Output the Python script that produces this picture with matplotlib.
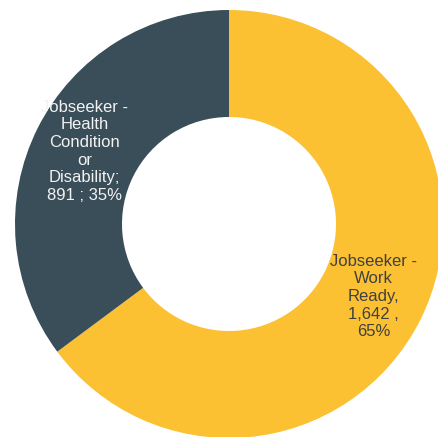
import matplotlib.pyplot as plt
import numpy as np

categories = ["Jobseeker - Work Ready", "Jobseeker - Health Condition or Disability"]
counts = [1642, 891]
label_texts = ["Jobseeker -\nWork\nReady,\n1,642 ,\n65%",
               "Jobseeker -\nHealth\nCondition\nor\nDisability;\n891 ; 35%"]
colors = ["#FCC132", "#3A4E59"]
text_colors = ["#404040", "#F2F2F2"]

plt.rcParams['font.family'] = ['Liberation Sans', 'DejaVu Sans']

fig = plt.figure(figsize=(4.39, 4.37), dpi=100)
R = 214
cx, cy = 229, 437 - 224
ax = fig.add_axes([(cx - R) / 439, (cy - R) / 437, 2 * R / 439, 2 * R / 437])

wedges, _ = ax.pie(counts, colors=colors, startangle=90, counterclock=False,
                   radius=1, wedgeprops=dict(width=0.5, edgecolor='none'))

for w, txt, tc in zip(wedges, label_texts, text_colors):
    mid = np.deg2rad((w.theta1 + w.theta2) / 2)
    r = 0.755
    ax.text(r * np.cos(mid), r * np.sin(mid), txt, ha='center', va='center',
            fontsize=12, color=tc, linespacing=1.22, multialignment='center')

ax.set_xlim(-1, 1)
ax.set_ylim(-1, 1)
ax.axis('off')

fig.savefig("out.png", dpi=100)
